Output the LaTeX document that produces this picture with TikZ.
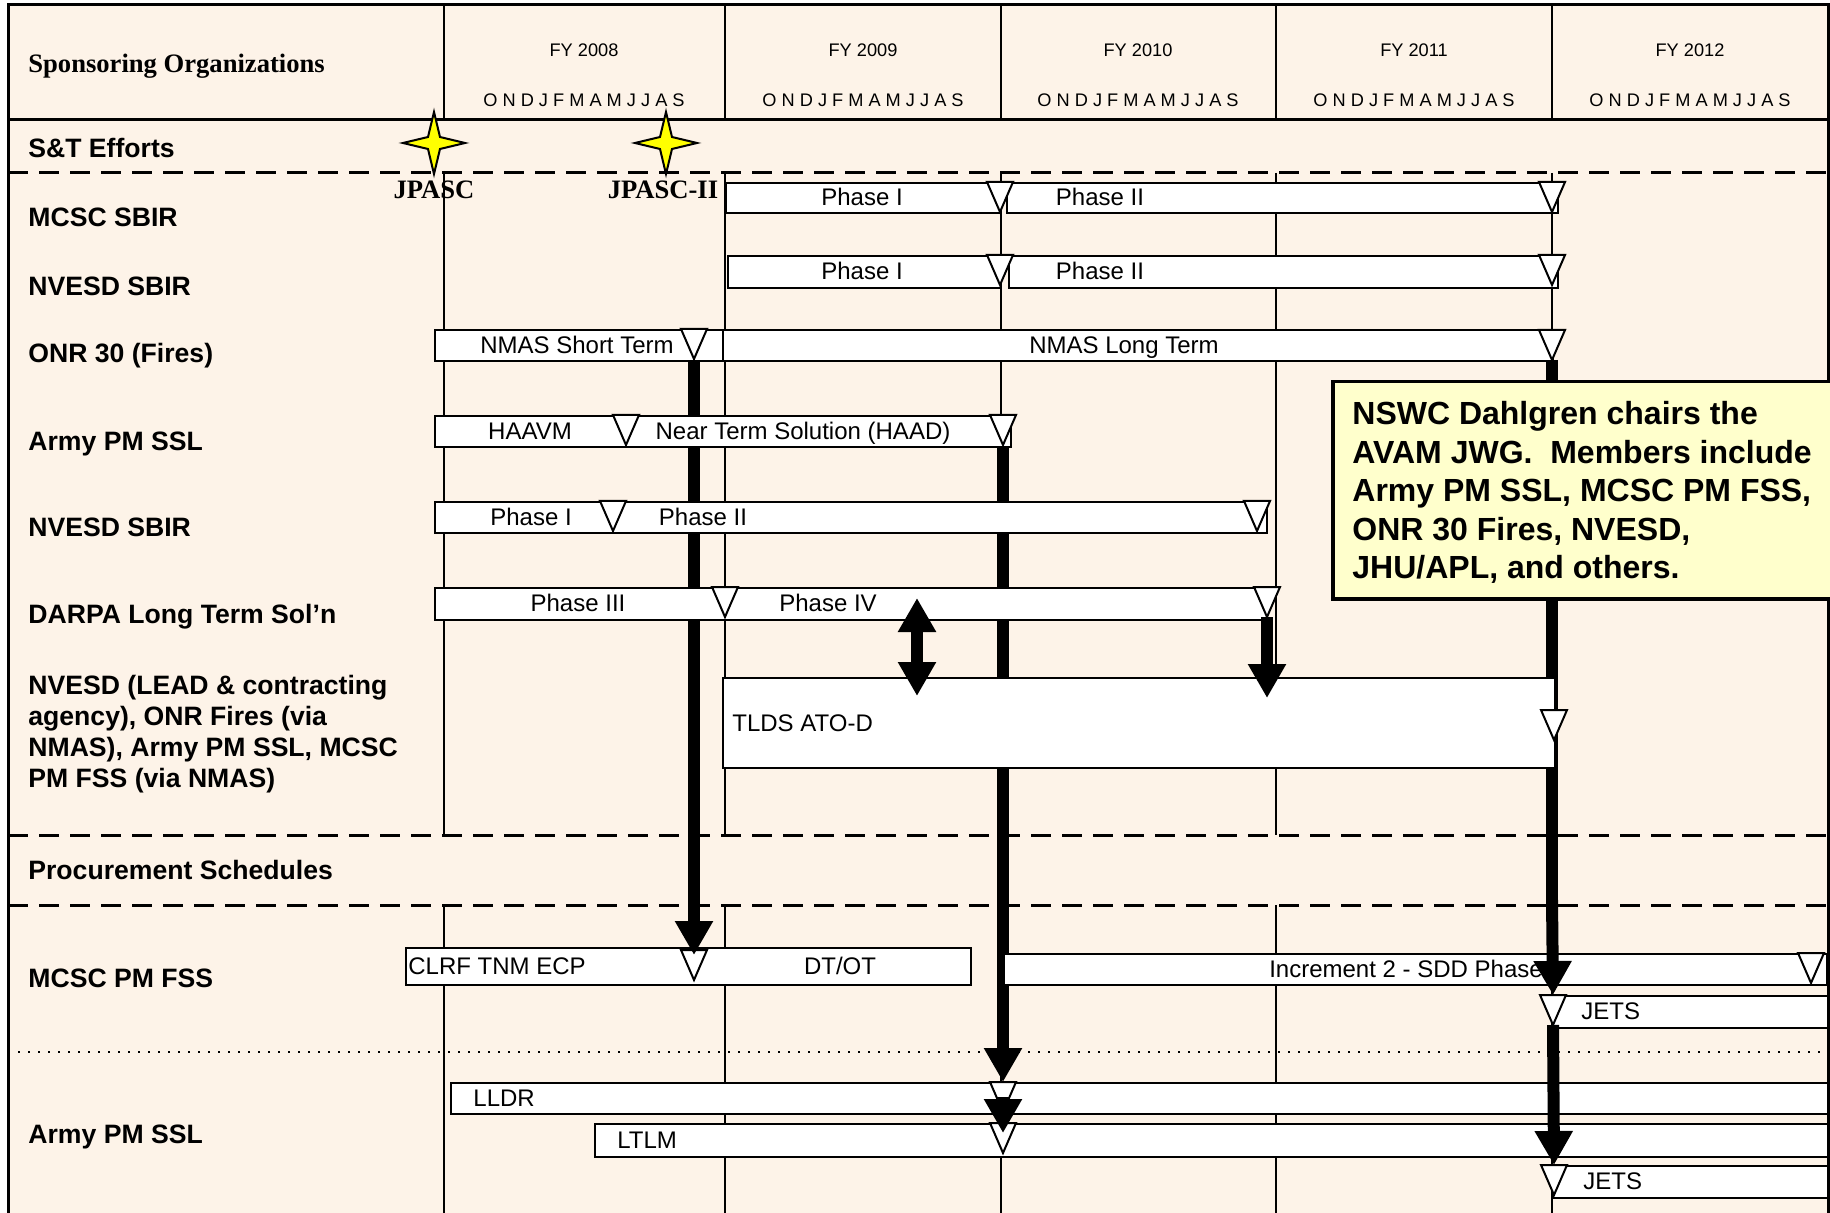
\documentclass[tikz,border=0pt]{standalone}
\usepackage{fontspec}
\setmainfont{Liberation Sans}
\newfontfamily\tnrfont{Liberation Serif}
\usetikzlibrary{arrows.meta}
\definecolor{bgc}{RGB}{253,243,232}
\definecolor{notec}{RGB}{255,255,204}
\definecolor{starc}{RGB}{255,255,0}
\newcommand\ganttbar[5]{\node[bar, minimum width={(#4-#2)*0.5pt}, minimum height={(#5-#3)*0.5pt}] (#1) at (#2,#3) {};}
\newcommand\mscoord[3]{\coordinate (#1) at (#2,#3); \coordinate (#1a) at (#2,#3+30);}
\newcommand\mstri[1]{\draw[mstone] ([xshift=-6.5pt]#1) -- ([xshift=6.5pt]#1) -- (#1a) -- cycle;}
\tikzset{
  lbl/.style={font=\fontsize{13.3pt}{15.5pt}\selectfont\bfseries, inner sep=0pt, text height=9.5pt, text depth=0pt, anchor=west},
  btxt/.style={font=\fontsize{12pt}{14pt}\selectfont, inner sep=0pt, text height=8.6pt, text depth=0pt},
  fytxt/.style={font=\fontsize{9.1pt}{11pt}\selectfont, inner sep=0pt, text height=6.5pt, text depth=0pt},
  jtxt/.style={font=\fontsize{13.3pt}{16pt}\selectfont\tnrfont\bfseries, inner sep=0pt, text height=8.8pt, text depth=0pt},
  bar/.style={draw=black, fill=white, line width=1pt, inner sep=0pt, anchor=north west},
  mstone/.style={draw=black, fill=white, line width=1pt, line join=miter},
  connline/.style={line width=6pt},
  conn/.style={line width=6pt, -{Triangle[width=18pt,length=17pt]}},
  dconn/.style={line width=6pt, {Triangle[width=18pt,length=17pt]}-{Triangle[width=18pt,length=17pt]}},
  gridline/.style={line width=1pt},
  dashline/.style={line width=1.5pt, dash pattern=on 10pt off 5.5pt},
  dotline/.style={line width=1pt, dash pattern=on 1pt off 4pt},
  notebox/.style={draw=black, fill=notec, line width=1.75pt, inner sep=0pt, anchor=north west},
  starshape/.style={draw=black, fill=starc, line width=1pt, line join=miter},
}
\begin{document}
\begin{tikzpicture}[x=0.5pt, y=-0.5pt]
\useasboundingbox (0,0) rectangle (1830,1213);
\fill[white] (0,0) rectangle (1830,1213);
\fill[bgc] (8,5) rectangle (1830,1213);

% grid
\foreach \x in {443.5,725,1000.5,1276,1552} {
  \draw[gridline] (\x,5) -- (\x,120);
  \draw[gridline] (\x,173) -- (\x,835);
  \draw[gridline] (\x,905) -- (\x,1213);
}
\draw[line width=1.5pt] (8,1213) -- (8,5) -- (1828,5) -- (1828,1213);
\draw[line width=1.5pt] (8,120) -- (1828,120);
\draw[dashline] (8,173) -- (1828,173);
\draw[dashline] (8,835) -- (1828,835);
\draw[dashline] (8,905) -- (1828,905);
\draw[dotline] (8,1052) -- (1828,1052);

% header
\node[jtxt, anchor=west] (hSpons) at (28,64) {Sponsoring Organizations};
\node[fytxt] (fy8) at (584,50) {FY 2008};
\node[fytxt] (fy9) at (863,50) {FY 2009};
\node[fytxt] (fy10) at (1138,50) {FY 2010};
\node[fytxt] (fy11) at (1414,50) {FY 2011};
\node[fytxt] (fy12) at (1690,50) {FY 2012};
\node[fytxt] (mo8) at (584,100) {O N D J F M A M J J A S};
\node[fytxt] (mo9) at (863,100) {O N D J F M A M J J A S};
\node[fytxt] (mo10) at (1138,100) {O N D J F M A M J J A S};
\node[fytxt] (mo11) at (1414,100) {O N D J F M A M J J A S};
\node[fytxt] (mo12) at (1690,100) {O N D J F M A M J J A S};

% row labels
\node[lbl] (lST) at (28,148) {S\&T Efforts};
\node[lbl] (l1) at (28,217) {MCSC SBIR};
\node[lbl] (l2) at (28,286) {NVESD SBIR};
\node[lbl] (l3) at (28,353) {ONR 30 (Fires)};
\node[lbl] (l4) at (28,441) {Army PM SSL};
\node[lbl] (l5) at (28,527) {NVESD SBIR};
\node[lbl] (l6) at (28,614) {DARPA Long Term Sol’n};
\node[lbl, anchor=north west, text height=, align=left] (l7) at (28,675) {NVESD (LEAD \& contracting\\agency), ONR Fires (via\\NMAS), Army PM SSL, MCSC\\PM FSS (via NMAS)};
\node[lbl] (lPS) at (28,870) {Procurement Schedules};
\node[lbl] (l8) at (28,978) {MCSC PM FSS};
\node[lbl] (l9) at (28,1134) {Army PM SSL};

% milestone coordinates
\mscoord{mA}{1000}{182} \mscoord{mB}{1552}{182}
\mscoord{mC}{1000}{255} \mscoord{mD}{1552}{255}
\mscoord{mE}{694}{329}  \mscoord{mF}{1552}{330}
\mscoord{mG}{626}{415}  \mscoord{mH}{1003}{415}
\mscoord{mI}{613}{501}  \mscoord{mJ}{1257}{501}
\mscoord{mK}{725}{587}  \mscoord{mL}{1267}{587}
\mscoord{mM}{1554}{710}
\mscoord{mN}{694}{950}  \mscoord{mO}{1811}{953}
\mscoord{mP}{1553}{995}
\mscoord{mQ}{1003}{1082} \mscoord{mR}{1003}{1123}
\mscoord{mS}{1554}{1165}
\coordinate (k1) at (694,900);
\coordinate (j1) at (1552,900);
\coordinate (tl1) at (1267,698);
\coordinate (d1) at (917,598);
\coordinate (d2) at (917,696);

% connectors under the bars
\draw[connline] (mEa) -- (k1);
\draw[conn] (mHa) -- (mQ);
\draw[connline] (mFa) -- (j1);

% note box
\node[notebox, minimum width={(1850-1331)*0.5pt}, minimum height={(597-380)*0.5pt}] (note) at (1331,380) {};
\node[font=\fontsize{16pt}{19.25pt}\selectfont\bfseries, inner sep=0pt, anchor=north west, align=left] (noteText) at (1352,401) {NSWC Dahlgren chairs the\\AVAM JWG.\ \ Members include\\Army PM SSL, MCSC PM FSS,\\ONR 30 Fires, NVESD,\\JHU/APL, and others.};

% bars
\ganttbar{bA1}{725}{182}{1000}{212}
\ganttbar{bA2}{1006}{182}{1557}{212}
\ganttbar{bB1}{727}{255}{1000}{287}
\ganttbar{bB2}{1008}{255}{1557}{287}
\ganttbar{bC1}{434}{329}{722}{360}
\ganttbar{bC2}{722}{329}{1552}{360}
\ganttbar{bD}{434}{415}{1010}{446}
\ganttbar{bE}{434}{501}{1266}{532}
\ganttbar{bF}{434}{587}{1266}{619}
\ganttbar{bG}{722}{677}{1554}{767}
\ganttbar{bH}{405}{947}{970}{984}
\ganttbar{bI}{1003}{953}{1826}{984}
\ganttbar{bJ}{1552}{995}{1827}{1027}
\ganttbar{bK}{450}{1082}{1827}{1113}
\ganttbar{bL}{594}{1123}{1827}{1156}
\ganttbar{bM}{1552}{1165}{1827}{1197}

% milestone triangles
\foreach \m in {mA,mB,mC,mD,mE,mF,mG,mH,mI,mJ,mK,mL,mM,mN,mO,mP,mQ,mR,mS} {\mstri{\m}}

% bar texts
\node[btxt] (tA1) at (862,197) {Phase I};
\node[btxt] (tA2) at (1100,197) {Phase II};
\node[btxt] (tB1) at (862,271) {Phase I};
\node[btxt] (tB2) at (1100,271) {Phase II};
\node[btxt] (tC1) at (577,344.5) {NMAS Short Term};
\node[btxt] (tC2) at (1124,344.5) {NMAS Long Term};
\node[btxt] (tD1) at (530,430.5) {HAAVM};
\node[btxt] (tD2) at (803,430.5) {Near Term Solution (HAAD)};
\node[btxt] (tE1) at (531,516.5) {Phase I};
\node[btxt] (tE2) at (703,516.5) {Phase II};
\node[btxt] (tF1) at (578,603) {Phase III};
\node[btxt] (tF2) at (828,603) {Phase IV};
\node[btxt, anchor=west] (tG) at (732,723) {TLDS ATO-D};
\node[btxt, anchor=west] (tH1) at (408,966) {CLRF TNM ECP};
\node[btxt] (tH2) at (840,966) {DT/OT};
\node[btxt] (tI) at (1406,969) {Increment 2 - SDD Phase};
\node[btxt, anchor=west] (tJ) at (1581,1011) {JETS};
\node[btxt, anchor=west] (tK) at (473,1098) {LLDR};
\node[btxt, anchor=west] (tL) at (617,1140) {LTLM};
\node[btxt, anchor=west] (tM) at (1583,1181) {JETS};

% connectors on top
\draw[conn, shorten >=-2.5pt] (k1) -- (mN);
\draw[conn] (j1) -- (mP);
\draw[conn] (mPa) -- (mS);
\draw[conn, shorten <=7.5pt, shorten >=-5pt] (mQ) -- (mR);
\draw[conn] (mLa) -- (tl1);
\draw[dconn] (d1) -- (d2);

% stars
\coordinate (s1) at (434,143);
\coordinate (s2) at (666,143);
\foreach \s in {s1,s2} {
  \draw[starshape] (\s) ++(0,-31) -- ++(6,25) -- ++(25,6) -- ++(-25,6) -- ++(-6,25) -- ++(-6,-25) -- ++(-25,-6) -- ++(25,-6) -- cycle;
}
\node[jtxt] (jp1) at (434,190) {JPASC};
\node[jtxt] (jp2) at (663,190) {JPASC-II};
\end{tikzpicture}
\end{document}
